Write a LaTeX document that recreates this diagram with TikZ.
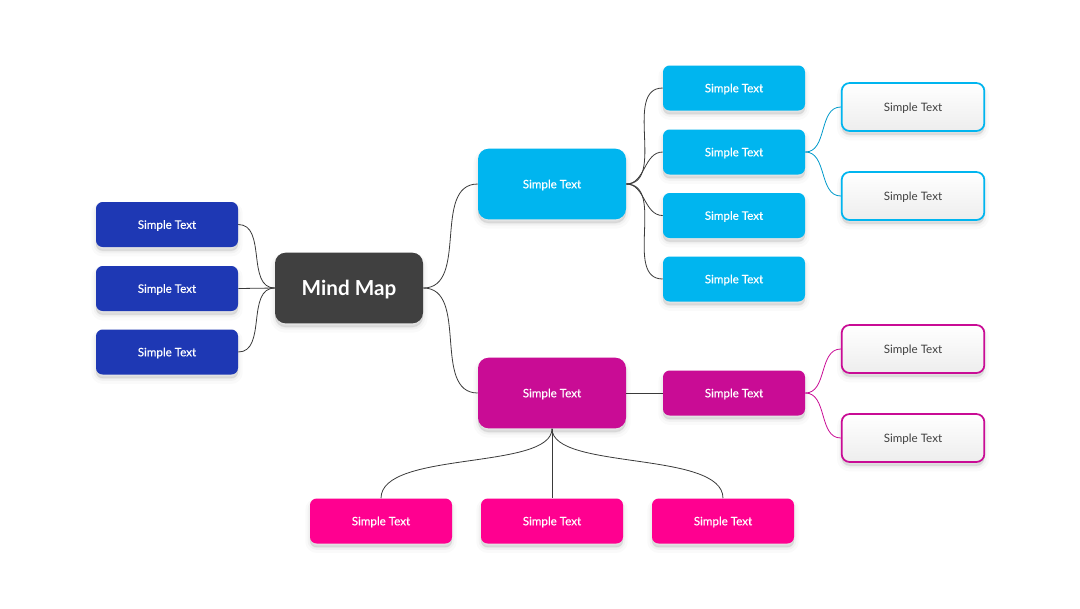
\documentclass[tikz,border=0pt]{standalone}
\usepackage{fontspec}
\setmainfont{Lato}
\newfontfamily\medfont[FakeBold=0.25]{Lato}
\definecolor{mmdark}{HTML}{404040}
\definecolor{mmblue}{HTML}{1E38B4}
\definecolor{mmcyan}{HTML}{00B5EF}
\definecolor{mmmag}{HTML}{C90C95}
\definecolor{mmpink}{HTML}{FF0090}
\definecolor{mmline}{HTML}{3A3A3A}
\definecolor{mmgrey}{HTML}{EDEDED}
\tikzset{
  shad/.style={
    preaction={draw=black, fill=black, line width=7pt, draw opacity=0.02, fill opacity=0.025, transform canvas={yshift=-3.5pt}},
    preaction={draw=black, fill=black, line width=3.5pt, draw opacity=0.03, fill opacity=0.03, transform canvas={yshift=-3pt}},
    preaction={draw=black, fill=black, line width=0.5pt, draw opacity=0.035, fill opacity=0.035, transform canvas={yshift=-2.5pt}}},
  txt/.style={font=\medfont\fontsize{8.7pt}{10pt}\selectfont},
  smallbox/.style={shad, rounded corners=5pt, minimum width=106.5pt, minimum height=33.75pt, inner sep=0pt,
    text depth=0pt, text=white, txt},
  bigbox/.style={shad, rounded corners=8pt, minimum width=111pt, minimum height=53pt, inner sep=0pt,
    text depth=0pt, text=white, txt},
  whitebox/.style={shad, rounded corners=6pt, minimum width=107pt, minimum height=36pt, inner sep=0pt,
    text depth=0pt, top color=white, bottom color=mmgrey, line width=1.3pt, text=mmdark,
    font=\fontsize{8.7pt}{10pt}\selectfont},
  conn/.style={draw=mmline, line width=0.6pt},
  cconn/.style={draw=mmcyan!85!black, line width=0.6pt},
  mconn/.style={draw=mmmag, line width=0.6pt},
}
\begin{document}
\begin{tikzpicture}[x=0.75pt, y=-0.75pt]
\useasboundingbox[fill=white] (0,0) rectangle (1080,608);
% central
\node[bigbox, fill=mmdark, font=\bfseries\fontsize{15.5pt}{18pt}\selectfont] (mm) at (349,288) {Mind Map};
% left
\node[smallbox, fill=mmblue] (l1) at (167,224.5) {Simple Text};
\node[smallbox, fill=mmblue] (l2) at (167,288.5) {Simple Text};
\node[smallbox, fill=mmblue] (l3) at (167,352) {Simple Text};
% cyan branch
\node[bigbox, fill=mmcyan] (cb) at (552,184) {Simple Text};
\node[smallbox, fill=mmcyan] (c1) at (734,88) {Simple Text};
\node[smallbox, fill=mmcyan] (c2) at (734,152) {Simple Text};
\node[smallbox, fill=mmcyan] (c3) at (734,215.5) {Simple Text};
\node[smallbox, fill=mmcyan] (c4) at (734,279) {Simple Text};
\node[whitebox, draw=mmcyan] (w1) at (913,107) {Simple Text};
\node[whitebox, draw=mmcyan] (w2) at (913,196) {Simple Text};
% magenta branch
\node[bigbox, fill=mmmag] (mb) at (552,393) {Simple Text};
\node[smallbox, fill=mmmag] (m1) at (734,393) {Simple Text};
\node[whitebox, draw=mmmag] (w3) at (913,349) {Simple Text};
\node[whitebox, draw=mmmag] (w4) at (913,438) {Simple Text};
% pink
\node[smallbox, fill=mmpink] (p1) at (381,521) {Simple Text};
\node[smallbox, fill=mmpink] (p2) at (552,521) {Simple Text};
\node[smallbox, fill=mmpink] (p3) at (723,521) {Simple Text};
% connectors
\draw[conn] (mm.west) to[out=180,in=0] (l1.east);
\draw[conn] (mm.west) -- (l2.east);
\draw[conn] (mm.west) to[out=180,in=0] (l3.east);
\draw[conn] (mm.east) to[out=0,in=180] (cb.west);
\draw[conn] (mm.east) to[out=0,in=180] (mb.west);
\draw[conn] (cb.east) to[out=0,in=180] (c1.west);
\draw[conn] (cb.east) to[out=0,in=180] (c2.west);
\draw[conn] (cb.east) to[out=0,in=180] (c3.west);
\draw[conn] (cb.east) to[out=0,in=180] (c4.west);
\draw[cconn] (c2.east) to[out=0,in=180] (w1.west);
\draw[cconn] (c2.east) to[out=0,in=180] (w2.west);
\draw[conn] (mb.east) -- (m1.west);
\draw[mconn] (m1.east) to[out=0,in=180] (w3.west);
\draw[mconn] (m1.east) to[out=0,in=180] (w4.west);
\draw[conn] (mb.south) .. controls +(0,42) and +(0,-48) .. (p1.north);
\draw[conn] (mb.south) -- (p2.north);
\draw[conn] (mb.south) .. controls +(0,42) and +(0,-48) .. (p3.north);
\end{tikzpicture}
\end{document}
